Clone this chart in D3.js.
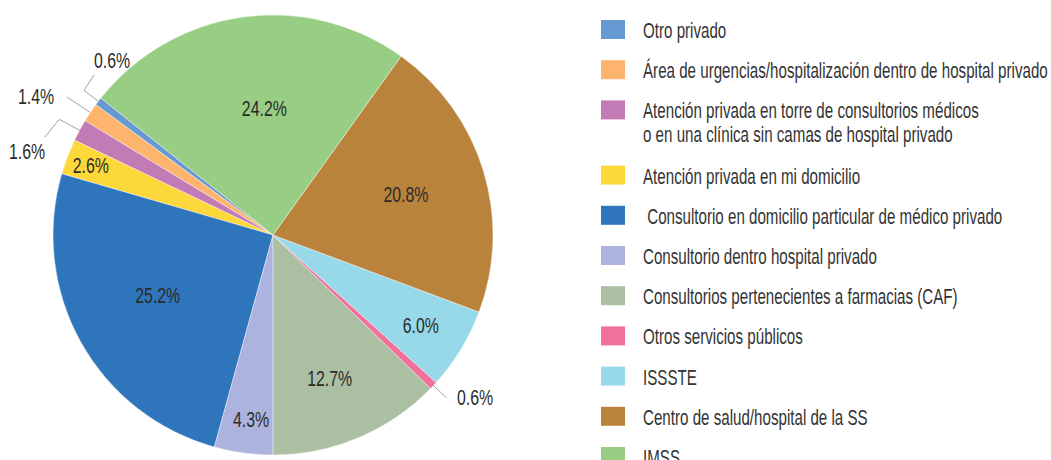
<!DOCTYPE html>
<html lang="es">
<head>
<meta charset="UTF-8">
<script src="https://cdnjs.cloudflare.com/ajax/libs/d3/7.8.5/d3.min.js"></script>
<style>
  body { margin: 0; background: #fff; }
  svg { display: block; font-family: 'Liberation Sans', Arial, sans-serif; }
  .lbl { font-size: 22px; fill: #2b2b2b; }
  .leg { font-size: 22px; fill: #333; white-space: pre; }
  .leader { stroke: #a0a0a0; stroke-width: 1; fill: none; }
</style>
</head>
<body>
<svg id="chart" width="1051" height="460"></svg>
<script>
// categories in legend order
const categories = [
  "Otro privado",
  "Área de urgencias/hospitalización dentro de hospital privado",
  "Atención privada en torre de consultorios médicos\no en una clínica sin camas de hospital privado",
  "Atención privada en mi domicilio",
  " Consultorio en domicilio particular de médico privado",
  "Consultorio dentro hospital privado",
  "Consultorios pertenecientes a farmacias (CAF)",
  "Otros servicios públicos",
  "ISSSTE",
  "Centro de salud/hospital de la SS",
  "IMSS"
];
const values = [0.6, 1.4, 1.6, 2.6, 25.2, 4.3, 12.7, 0.6, 6.0, 20.8, 24.2];
const colors = ["#6699d2", "#fdb46c", "#c27bb5", "#fdd83a", "#2e75bb", "#abb3de",
                "#abbfa3", "#f2719b", "#98d9e9", "#ba833b", "#98cd84"];

const svg = d3.select('#chart');
const cx = 273, cy = 235, R = 220;
const deg = Math.PI / 180;

// no condensed font installed, so squeeze text horizontally to match the narrow face
const squeeze = (sel, k) => {
  sel.each(function() {
    const t = d3.select(this);
    const x = +t.attr('x'), y = +t.attr('y');
    t.attr('x', 0).attr('y', 0).attr('transform', `translate(${x},${y}) scale(${k},1)`);
  });
};
const measure = (cls, str) => {
  const t = svg.append('text').attr('class', cls).text(str);
  const w = t.node().getComputedTextLength();
  t.remove();
  return w;
};
const kLbl = 45 / measure('lbl', '25.2%');
const kLeg = 405 / measure('leg', categories[1]);

// slices run counter-clockwise in legend order
const pie = d3.pie().sort(null).value(d => d)
  .startAngle(-51.5 * deg).endAngle(-51.5 * deg - 2 * Math.PI);
const arcs = pie(values);
const arc = d3.arc().innerRadius(0).outerRadius(R);

const g = svg.append('g').attr('transform', `translate(${cx},${cy})`);
g.selectAll('path.slice')
  .data(arcs)
  .join('path')
  .attr('class', 'slice')
  .attr('d', arc)
  .attr('fill', (d, i) => colors[i])
  .attr('stroke', '#fff')
  .attr('stroke-width', 0.4);

// label layout: inside radius for big slices, leader lines for small ones
const insideR = {3: 195, 4: 124, 5: 186, 6: 156, 8: 173, 9: 139, 10: 128};
const insideShift = {10: 9, 4: -7, 5: 3, 6: -4}; // small horizontal nudges
const outside = {
  0: {elbow: 238, end: [94 - cx, 75 - cy], text: [112 - cx, 60 - cy], anchor: 'middle'},
  1: {elbow: 248, end: null, text: [36 - cx, 96 - cy], anchor: 'middle'},
  2: {elbow: 243, end: [45 - cx, 137 - cy], text: [27 - cx, 151 - cy], anchor: 'middle'},
  7: {elbow: 238, end: null, text: [457 - cx, 397 - cy], anchor: 'start'}
};
const pt = (a, r) => [r * Math.sin(a), -r * Math.cos(a)];
const fmt = d3.format('.1f');

arcs.forEach((d, i) => {
  const mid = (d.startAngle + d.endAngle) / 2;
  let t;
  if (outside[i]) {
    const o = outside[i];
    const pts = [pt(mid, R), pt(mid, o.elbow)];
    if (o.end) pts.push(o.end);
    g.append('path').attr('class', 'leader').attr('d', d3.line()(pts));
    t = g.append('text').attr('class', 'lbl')
      .attr('x', o.text[0]).attr('y', o.text[1])
      .attr('text-anchor', o.anchor);
  } else {
    const p = pt(mid, insideR[i]);
    t = g.append('text').attr('class', 'lbl')
      .attr('x', p[0] + (insideShift[i] || 0)).attr('y', p[1])
      .attr('text-anchor', 'middle');
  }
  t.attr('dy', '0.35em').text(fmt(values[i]) + '%');
  squeeze(t, kLbl);
});

// legend
const leg = svg.append('g').attr('transform', 'translate(601,20)');
let y = 0;
categories.forEach((c, i) => {
  const lines = c.split('\n');
  const row = leg.append('g').attr('transform', `translate(0,${y})`);
  row.append('rect').attr('width', 24).attr('height', 19).attr('fill', colors[i]);
  lines.forEach((t, j) => {
    const tx = row.append('text').attr('class', 'leg')
      .attr('x', 42).attr('y', 18 + j * 24)
      .text(t);
    squeeze(tx, kLeg);
  });
  y += 40.2 + (lines.length - 1) * 25;
});
</script>
</body>
</html>
